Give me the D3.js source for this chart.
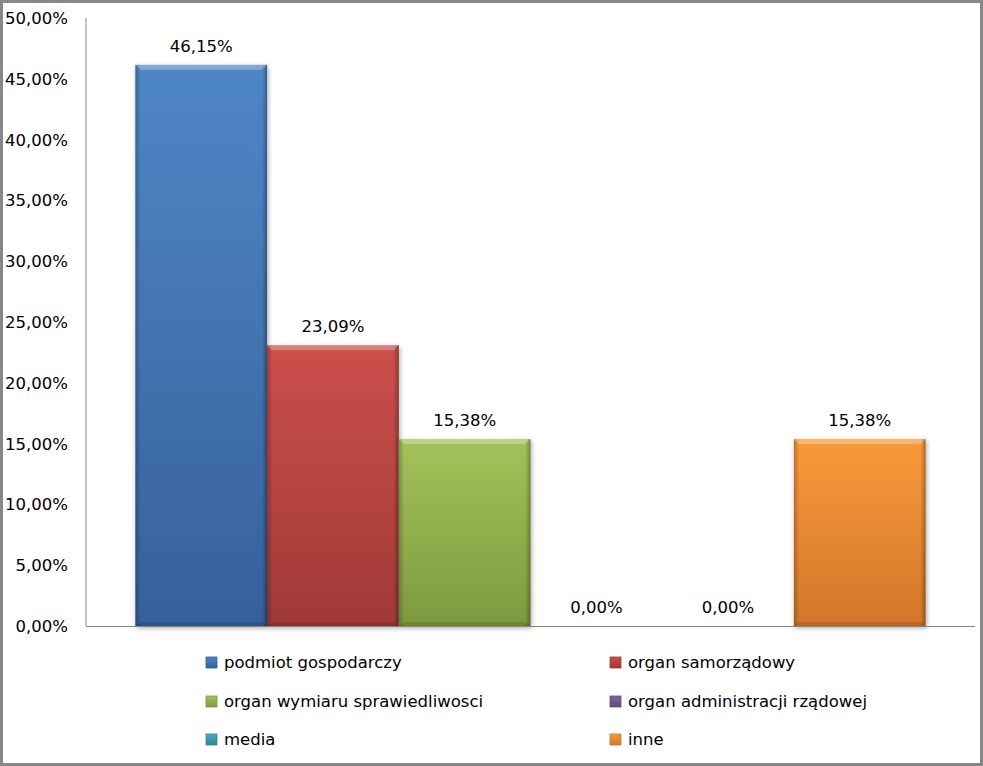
<!DOCTYPE html>
<html><head><meta charset="utf-8">
<script src="https://cdn.jsdelivr.net/npm/d3@7"></script>
<style>
html,body{margin:0;padding:0;background:#fff;}
svg{display:block;}
text{font-family:"DejaVu Sans",sans-serif;fill:#000;}
</style></head>
<body>
<svg id="c" width="983" height="766"></svg>
<script>
const series = ["podmiot gospodarczy","organ samorządowy","organ wymiaru sprawiedliwosci","organ administracji rządowej","media","inne"];
const values = [0.4615, 0.2309, 0.1538, 0.0, 0.0, 0.1538];
const colorsTop = ["#4f86c6","#cc4f4b","#a2c35b","#8064a2","#4bacc6","#f99a3a"];
const colorsBot = ["#36609a","#a03936","#7d9a3e","#5f4a7c","#31859c","#d2762a"];
const yTicks = [0,0.05,0.10,0.15,0.20,0.25,0.30,0.35,0.40,0.45,0.50];

const loc = d3.formatLocale({decimal:",",thousands:" ",grouping:[3],currency:["","zł"]});
const fmt = loc.format(".2%");

const svg = d3.select("#c");
const W=983,H=766;
svg.append("rect").attr("x",1.5).attr("y",1.5).attr("width",W-3).attr("height",H-3)
  .attr("fill","#fff").attr("stroke","#878787").attr("stroke-width",3);

const x0=86,x1=975,yTop=18,yBase=626;
const x = d3.scaleBand().domain(series).range([x0,x1]).paddingInner(0).paddingOuter(0.375);
const y = d3.scaleLinear().domain([0,0.5]).range([yBase,yTop]);

const defs = svg.append("defs");
series.forEach((s,i)=>{
  const g = defs.append("linearGradient").attr("id","g"+i).attr("x1",0).attr("y1",0).attr("x2",0).attr("y2",1);
  g.append("stop").attr("offset","0%").attr("stop-color",colorsTop[i]);
  g.append("stop").attr("offset","100%").attr("stop-color",colorsBot[i]);
});
const side = defs.append("linearGradient").attr("id","side").attr("x1",0).attr("y1",0).attr("x2",1).attr("y2",0);
side.append("stop").attr("offset","0%").attr("stop-color","#000").attr("stop-opacity",0.25);
side.append("stop").attr("offset","4%").attr("stop-color","#000").attr("stop-opacity",0);
side.append("stop").attr("offset","96%").attr("stop-color","#000").attr("stop-opacity",0);
side.append("stop").attr("offset","100%").attr("stop-color","#000").attr("stop-opacity",0.3);
const flt = defs.append("filter").attr("id","sh").attr("x","-10%").attr("y","-10%").attr("width","130%").attr("height","130%");
flt.append("feGaussianBlur").attr("in","SourceAlpha").attr("stdDeviation",2.5).attr("result","b");
flt.append("feOffset").attr("in","b").attr("dx",1).attr("dy",2).attr("result","o");
flt.append("feComponentTransfer").attr("in","o").attr("result","o2").append("feFuncA").attr("type","linear").attr("slope",0.35);
const m = flt.append("feMerge"); m.append("feMergeNode").attr("in","o2"); m.append("feMergeNode").attr("in","SourceGraphic");

// y axis labels
svg.append("g").selectAll("text").data(yTicks).join("text")
  .attr("x",68).attr("y",d=>y(d)+6).attr("text-anchor","end").attr("font-size",16.5)
  .text(d=>fmt(d));

// bars
const bars = svg.append("g");
series.forEach((s,i)=>{
  const v=values[i]; if(v<=0) return;
  const bx=x(s), bw=x.bandwidth(), by=y(v), bh=yBase-y(v);
  const g=bars.append("g").attr("filter","url(#sh)");
  g.append("rect").attr("x",bx).attr("y",by).attr("width",bw).attr("height",bh).attr("fill","url(#g"+i+")");
  g.append("rect").attr("x",bx).attr("y",by).attr("width",bw).attr("height",bh).attr("fill","url(#side)");
  g.append("path").attr("d",`M${bx},${by}L${bx+bw},${by}L${bx+bw-5},${by+5}L${bx+5},${by+5}Z`)
    .attr("fill","#fff").attr("fill-opacity",0.28);
  g.append("path").attr("d",`M${bx},${by+bh}L${bx+bw},${by+bh}L${bx+bw-5},${by+bh-4}L${bx+5},${by+bh-4}Z`)
    .attr("fill","#000").attr("fill-opacity",0.12);
});

// axis lines
svg.append("line").attr("x1",x0).attr("x2",x0).attr("y1",yTop).attr("y2",yBase).attr("stroke","#868686").attr("stroke-width",1);
svg.append("line").attr("x1",x0).attr("x2",x1).attr("y1",yBase+0.5).attr("y2",yBase+0.5).attr("stroke","#868686").attr("stroke-width",1);

// data labels
svg.append("g").selectAll("text").data(series).join("text")
  .attr("x",d=>x(d)+x.bandwidth()/2).attr("y",(d,i)=>y(values[i])-13)
  .attr("text-anchor","middle").attr("font-size",16.5)
  .text((d,i)=>fmt(values[i]));

// legend
const lg = svg.append("g");
const colX=[206,610], rowY=[662,701,739];
series.forEach((s,i)=>{
  const cx=colX[i%2], cy=rowY[Math.floor(i/2)];
  lg.append("rect").attr("x",cx).attr("y",cy-5).attr("width",11).attr("height",11)
    .attr("fill","url(#g"+i+")").attr("stroke",colorsBot[i]).attr("stroke-width",0.8);
  lg.append("text").attr("x",cx+18).attr("y",cy+6).attr("font-size",16.5).text(s);
});
</script>
</body></html>
